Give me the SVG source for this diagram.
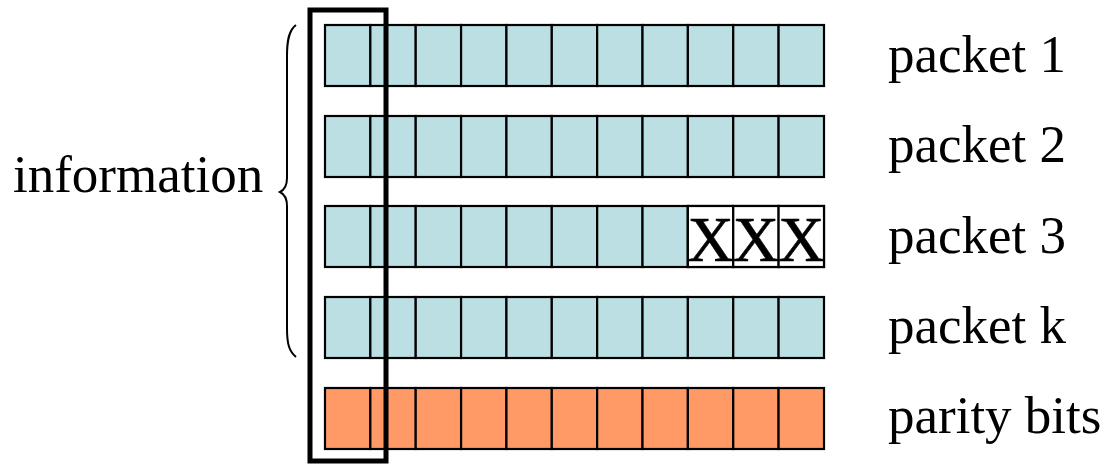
<svg xmlns="http://www.w3.org/2000/svg" width="1107" height="464" viewBox="0 0 1107 464">
<defs>
<style>
.c{fill:#BBDFE2;stroke:#000;stroke-width:2.2}
.p{fill:#FF9966;stroke:#000;stroke-width:2.2}
.w{fill:#fff;stroke:#000;stroke-width:2.2}
.t{font-family:"Liberation Serif","Times New Roman",serif;font-size:53px;fill:#000}
.x{font-family:"Liberation Serif","Times New Roman",serif;font-size:64px;fill:#000;stroke:#000;stroke-width:0.6;text-anchor:middle}
</style>
<g id="rowcells">
<rect x="325" y="0" width="45.36" height="61"/>
<rect x="370.36" y="0" width="45.36" height="61"/>
<rect x="415.72" y="0" width="45.36" height="61"/>
<rect x="461.08" y="0" width="45.36" height="61"/>
<rect x="506.44" y="0" width="45.36" height="61"/>
<rect x="551.8" y="0" width="45.36" height="61"/>
<rect x="597.16" y="0" width="45.36" height="61"/>
<rect x="642.52" y="0" width="45.36" height="61"/>
<rect x="687.88" y="0" width="45.36" height="61"/>
<rect x="733.24" y="0" width="45.36" height="61"/>
<rect x="778.6" y="0" width="45.4" height="61"/>
</g>
</defs>
<g id="packet1"><use href="#rowcells" class="c" y="25"/><text class="t" x="888" y="72">packet 1</text></g>
<g id="packet2"><use href="#rowcells" class="c" y="116"/><text class="t" x="888" y="162">packet 2</text></g>
<g id="packet3"><use href="#rowcells" class="c" y="206"/>
<rect class="w" x="687.88" y="206" width="45.36" height="61"/>
<rect class="w" x="733.24" y="206" width="45.36" height="61"/>
<rect class="w" x="778.6" y="206" width="45.4" height="61"/>
<text class="x" x="710.6" y="261">X</text><text class="x" x="755.9" y="261">X</text><text class="x" x="801.3" y="261">X</text>
<text class="t" x="888" y="253">packet 3</text></g>
<g id="packetk"><use href="#rowcells" class="c" y="297"/><text class="t" x="888" y="343">packet k</text></g>
<g id="parity"><use href="#rowcells" class="p" y="388"/><text class="t" x="888" y="433">parity bits</text></g>
<g id="information"><path d="M296,25 C289,30 287,40 287,56 L287,178 C287,186 284,190 280,192 C284,194 287,198 287,206 L287,328 C287,344 289,351 296,357" fill="none" stroke="#000" stroke-width="2"/><text class="t" x="13" y="192">information</text></g>
<g id="connectors"><rect id="column" x="310" y="10" width="76" height="451" fill="none" stroke="#000" stroke-width="5"/></g>
</svg>
